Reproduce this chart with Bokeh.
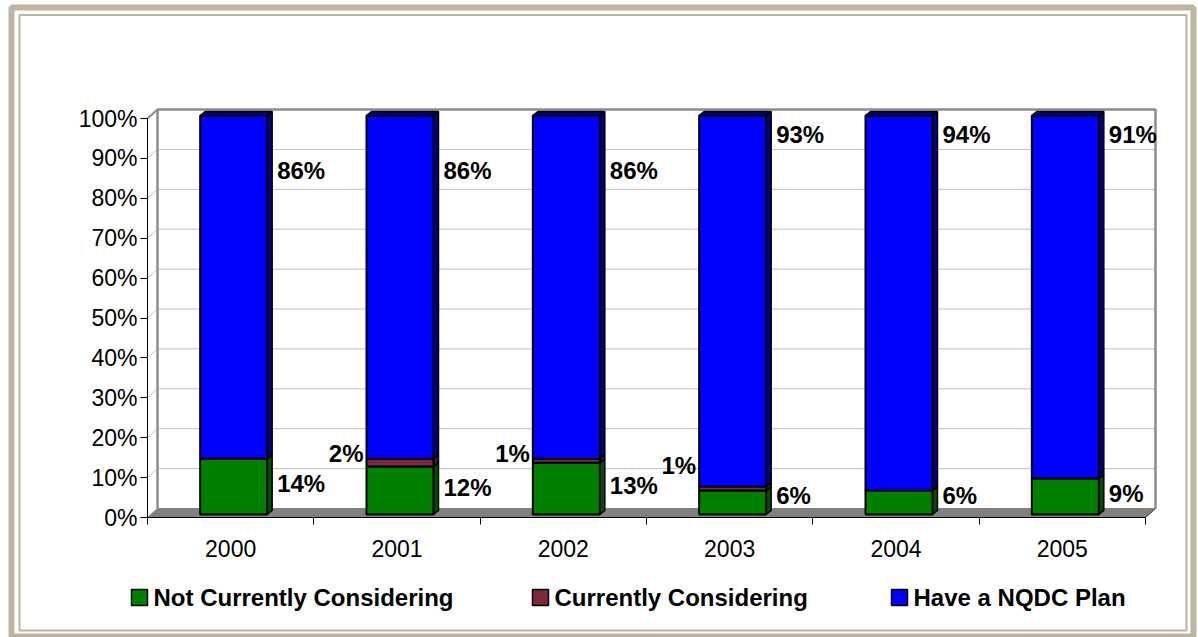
from bokeh.plotting import figure
from bokeh.models import Range1d, LinearAxis, FixedTicker
from bokeh.core.properties import value
from bokeh.embed import file_html
from bokeh.resources import INLINE

# ---- data ----
years = ["2000", "2001", "2002", "2003", "2004", "2005"]
not_considering = [14, 12, 13, 6, 6, 9]
considering = [0, 2, 1, 1, 0, 0]
have_plan = [86, 86, 86, 93, 94, 91]
series_names = ["Not Currently Considering", "Currently Considering", "Have a NQDC Plan"]
y_ticks = [0, 10, 20, 30, 40, 50, 60, 70, 80, 90, 100]

# ---- styles ----
FONT = value("Liberation Sans")
GREEN, MAROON, BLUE = "#008000", "#7A2A3A", "#0000FF"
GREEN_S, MAROON_S, BLUE_S = "#005000", "#4A1622", "#000080"
TAN = "#BFB3A2"

W, H = 1198, 637
X0, Y0 = 147.0, 517.0          # screen position of front origin
PXC, PXP = 166.33, 3.99         # px per category, px per percent
WDX, WDY = 10.0, 9.0            # wall depth (px)
BDX, BDY = 3.0, 3.0             # bar front offset (px)
BSX, BSY = 5.0, 4.0             # bar depth (px)
BHW = 33.5                      # bar half width (px)


def X(px):
    return (px - X0) / PXC - 0.5


def Y(py):
    return (Y0 - py) / PXP


def cx(i):  # category centre in screen px
    return X0 + (i + 0.5) * PXC


def cy(v):  # percent -> screen px
    return Y0 - v * PXP


n = len(years)
p = figure(width=W, height=H, output_backend="svg", toolbar_location=None,
           x_range=Range1d(X(0), X(W)), y_range=Range1d(Y(H), Y(0)),
           x_axis_location=None, y_axis_location=None, min_border=0,
           outline_line_color=None, background_fill_color="white",
           border_fill_color="white")
p.grid.visible = False

# ---- border frame ----
p.patch([X(11), X(1193), X(1193), X(11), X(11)], [Y(7), Y(7), Y(636), Y(636), Y(7)],
        fill_color=None, line_color=TAN, line_width=6)
p.patch([X(19), X(1186), X(1186), X(19), X(19)], [Y(14.5), Y(14.5), Y(630), Y(630), Y(14.5)],
        fill_color=None, line_color=TAN, line_width=2)

# ---- walls ----
bl, br, bt, bb = X0 + WDX, cx(5) + PXC / 2 + WDX, cy(100) - WDY, Y0 - WDY
front_right = cx(5) + PXC / 2
# floor
p.patch([X(X0), X(front_right), X(br), X(bl)], [Y(Y0), Y(Y0), Y(bb), Y(bb)],
        fill_color="#808080", line_color="#808080", line_width=1)
# gridlines on back wall and side wall
for t in y_ticks[1:]:
    ty = cy(t)
    p.line([X(bl), X(br)], [Y(ty - WDY), Y(ty - WDY)], line_color="#C0C0C0", line_width=1)
    p.line([X(X0), X(bl)], [Y(ty), Y(ty - WDY)], line_color="#C0C0C0", line_width=1)
# back wall outline
p.line([X(bl), X(bl), X(br), X(br)], [Y(bb), Y(bt), Y(bt), Y(bb)],
       line_color="#8C8C8C", line_width=2.5)
p.line([X(X0), X(bl)], [Y(cy(100)), Y(bt)], line_color="#8C8C8C", line_width=2)
p.line([X(front_right), X(br)], [Y(Y0), Y(bb)], line_color="#404040", line_width=1)

# ---- bars ----
stack = [not_considering, considering, have_plan]
fills = [GREEN, MAROON, BLUE]
sides = [GREEN_S, MAROON_S, BLUE_S]
for i in range(n):
    base = 0.0
    c = cx(i) + BDX
    left, right = c - BHW, c + BHW
    for s, vals in enumerate(stack):
        v = vals[i]
        if v <= 0:
            continue
        yb, yt = cy(base) - BDY, cy(base + v) - BDY
        # side face
        p.patch([X(right), X(right + BSX), X(right + BSX), X(right)],
                [Y(yb), Y(yb - BSY), Y(yt - BSY), Y(yt)],
                fill_color=sides[s], line_color="black", line_width=1.5)
        # front face
        p.quad(left=X(left), right=X(right), bottom=Y(yb), top=Y(yt),
               fill_color=fills[s], line_color="black", line_width=2)
        base += v
    # top face
    yt = cy(base) - BDY
    p.patch([X(left), X(right), X(right + BSX), X(left + BSX)],
            [Y(yt), Y(yt), Y(yt - BSY), Y(yt - BSY)],
            fill_color=BLUE_S, line_color="black", line_width=1.5)

# ---- axes ----
yax = LinearAxis(fixed_location=X(X0), bounds=(0, 100),
                 ticker=FixedTicker(ticks=y_ticks),
                 major_label_overrides={t: f"{t}%" for t in y_ticks})
yax.major_tick_out = 7
yax.major_tick_in = 0
yax.minor_tick_line_color = None
yax.axis_line_color = "black"
yax.major_label_text_font = "Liberation Sans"
yax.major_label_text_font_size = "23px"
yax.major_label_text_color = "black"
yax.major_label_standoff = 3
p.add_layout(yax, "left")

bounds_ticks = [k - 0.5 for k in range(n + 1)]
xax = LinearAxis(fixed_location=0, bounds=(-0.5, n - 0.5),
                 ticker=FixedTicker(ticks=bounds_ticks),
                 major_label_overrides={t: "" for t in bounds_ticks})
xax.major_tick_out = 7
xax.major_tick_in = 0
xax.minor_tick_line_color = None
xax.axis_line_color = "black"
xax.major_label_text_font_size = "1px"
p.add_layout(xax, "below")

xlab = LinearAxis(fixed_location=0, ticker=FixedTicker(ticks=list(range(n))),
                  major_label_overrides={k: years[k] for k in range(n)})
xlab.axis_line_color = None
xlab.major_tick_line_color = None
xlab.minor_tick_line_color = None
xlab.major_label_text_font = "Liberation Sans"
xlab.major_label_text_font_size = "23px"
xlab.major_label_text_color = "black"
xlab.major_label_standoff = 16
p.add_layout(xlab, "below")

# ---- value labels ----
lab_kw = dict(text_font=FONT, text_font_size="24px", text_font_style="bold",
              text_color="black", text_baseline="middle")
rx, ry, rt = [], [], []
lx, ly, lt = [], [], []
for i in range(n):
    c = cx(i) + BDX
    right_px = c + BHW + 10
    # top series
    hv = have_plan[i]
    rx.append(X(right_px)); ry.append(hv + 1 if hv < 90 else 96); rt.append(f"{hv}%")
    # bottom series
    nv = not_considering[i]
    rx.append(X(right_px)); ry.append(max(nv / 2 + 1.5, 5.5)); rt.append(f"{nv}%")
    # middle series
    mv = considering[i]
    if mv > 0:
        top = nv + mv
        lx.append(X(c - BHW - 3)); ly.append(max(top + 2, 13)); lt.append(f"{mv}%")
p.text(x=rx, y=ry, text=rt, text_align="left", **lab_kw)
p.text(x=lx, y=ly, text=lt, text_align="right", **lab_kw)

# ---- legend ----
leg_x = [131, 532, 891]
leg_y = 597
for k in range(3):
    p.quad(left=X(leg_x[k]), right=X(leg_x[k] + 16), bottom=Y(leg_y + 8), top=Y(leg_y - 8),
           fill_color=fills[k], line_color="black", line_width=1.5)
p.text(x=[X(v + 22) for v in leg_x], y=[Y(leg_y)] * 3, text=series_names,
       text_align="left", **lab_kw)

open("out.html", "w").write(file_html(p, INLINE))
